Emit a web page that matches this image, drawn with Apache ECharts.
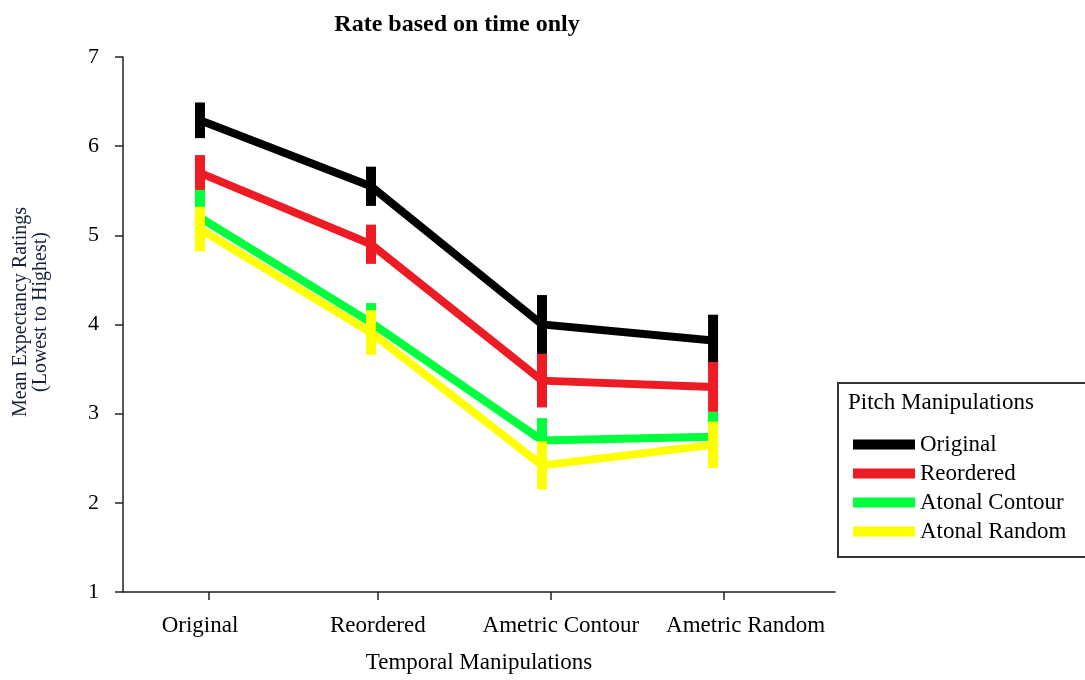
<!DOCTYPE html>
<html>
<head>
<meta charset="utf-8">
<style>
  html, body { margin: 0; padding: 0; background: #fff; }
  #chart { width: 1085px; height: 680px; }
</style>
<script src="https://cdn.jsdelivr.net/npm/echarts@6/dist/echarts.min.js"></script>
</head>
<body>
<div id="chart"></div>
<script>
// Temporal manipulation conditions (x axis)
const categories = ['Original', 'Reordered', 'Ametric Contour', 'Ametric Random'];

// Pitch manipulation groups (one line each)
const groups = ['Original', 'Reordered', 'Atonal Contour', 'Atonal Random'];

// Mean expectancy ratings per group, one value per temporal condition
const meanOriginal      = [6.29, 5.55, 4.00, 3.82];
const meanReordered     = [5.70, 4.90, 3.37, 3.30];
const meanAtonalContour = [5.20, 4.02, 2.70, 2.74];
const meanAtonalRandom  = [5.07, 3.91, 2.42, 2.65];

// Half-width of each error bar
const errOriginal      = [0.20, 0.22, 0.33, 0.29];
const errReordered     = [0.20, 0.22, 0.30, 0.28];
const errAtonalContour = [0.31, 0.22, 0.25, 0.28];
const errAtonalRandom  = [0.25, 0.25, 0.27, 0.26];

// Y axis ticks
const yTicks = [1, 2, 3, 4, 5, 6, 7];

const means = [meanOriginal, meanReordered, meanAtonalContour, meanAtonalRandom];
const errs = [errOriginal, errReordered, errAtonalContour, errAtonalRandom];
const colors = ['#000000', '#ed1c24', '#00ff3c', '#ffff00'];

const serif = "'Liberation Serif', 'Times New Roman', serif";

const series = [];
groups.forEach(function (name, g) {
  // mean line for the group
  series.push({
    name: name,
    type: 'line',
    data: means[g].map(function (v, i) { return [i, v]; }),
    symbol: 'none',
    lineStyle: { color: colors[g], width: 8, cap: 'butt', join: 'miter' },
    itemStyle: { color: colors[g] },
    z: 2 + g * 2
  });
  // thick capless error bars drawn over the line
  series.push({
    name: name + ' error',
    type: 'custom',
    data: means[g].map(function (v, i) { return [i, v - errs[g][i], v + errs[g][i]]; }),
    renderItem: function (params, api) {
      const lo = api.coord([api.value(0), api.value(1)]);
      const hi = api.coord([api.value(0), api.value(2)]);
      return {
        type: 'rect',
        shape: { x: lo[0] - 5, y: hi[1], width: 10, height: lo[1] - hi[1] },
        style: { fill: colors[g] }
      };
    },
    encode: { x: 0, y: [1, 2] },
    z: 3 + g * 2,
    silent: true
  });
});

const chart = echarts.init(document.getElementById('chart'));
chart.setOption({
  animation: false,
  backgroundColor: '#ffffff',
  title: {
    text: 'Rate based on time only',
    left: 452,
    top: 8,
    textAlign: 'center',
    textStyle: { fontFamily: serif, fontWeight: 'bold', fontSize: 24, color: '#000' }
  },
  grid: { left: 123, right: 250, top: 57, bottom: 88, containLabel: false },
  xAxis: {
    type: 'value',
    min: -0.45,
    max: 3.713,
    name: 'Temporal Manipulations',
    nameLocation: 'middle',
    nameGap: 59,
    nameTextStyle: { fontFamily: serif, fontSize: 23, color: '#000' },
    axisLine: { show: true, onZero: false, lineStyle: { color: '#222', width: 1.5 } },
    // ticks sit just right of each condition, labels spread a little wider
    axisTick: { show: true, length: 8, customValues: [0.05, 1.04, 2.05, 3.06], lineStyle: { color: '#222', width: 1.5 } },
    axisLabel: {
      customValues: [0, 1.04, 2.11, 3.19],
      formatter: function (v) { return categories[Math.round(v)]; },
      margin: 22,
      fontFamily: serif,
      fontSize: 23,
      color: '#000'
    },
    splitLine: { show: false }
  },
  yAxis: {
    type: 'value',
    min: yTicks[0],
    max: yTicks[yTicks.length - 1],
    interval: 1,
    axisLine: { show: true, onZero: false, lineStyle: { color: '#222', width: 1.5 } },
    axisTick: { show: true, length: 8, lineStyle: { color: '#222', width: 1.5 } },
    axisLabel: { margin: 24, fontFamily: serif, fontSize: 22, color: '#000' },
    splitLine: { show: false }
  },
  legend: {
    data: groups,
    orient: 'vertical',
    left: 848,
    top: 428,
    itemWidth: 62,
    itemHeight: 10,
    itemGap: 6,
    icon: 'rect',
    textStyle: { fontFamily: serif, fontSize: 23, lineHeight: 23, color: '#000' }
  },
  graphic: [
    {
      type: 'rect',
      shape: { x: 838, y: 383, width: 260, height: 174 },
      style: { fill: 'none', stroke: '#333', lineWidth: 2 },
      z: 0
    },
    {
      type: 'text',
      x: 848,
      y: 403,
      style: {
        text: 'Pitch Manipulations',
        font: '23px ' + serif,
        fill: '#000',
        textVerticalAlign: 'middle'
      }
    },
    {
      type: 'text',
      x: 31,
      y: 312,
      rotation: Math.PI / 2,
      style: {
        text: 'Mean Expectancy Ratings\n(Lowest to Highest)',
        font: '20px ' + serif,
        fill: '#15203a',
        textAlign: 'center',
        textVerticalAlign: 'middle',
        lineHeight: 20
      }
    }
  ],
  series: series
});
</script>
</body>
</html>
